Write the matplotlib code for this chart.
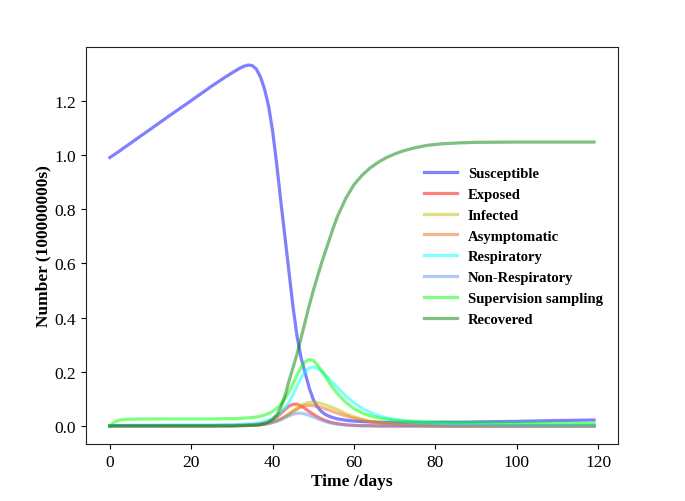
import matplotlib
matplotlib.use("Agg")
import matplotlib.pyplot as plt

plt.rcParams['font.family'] = ['Liberation Serif', 'DejaVu Serif']
plt.rcParams['mathtext.fontset'] = 'stix'

# time grid (days)
days = [0, 1, 2, 3, 5, 10, 15, 20, 25, 28, 30, 32, 33, 34, 35, 36, 37, 38, 39, 40,
        41, 42, 43, 44, 45, 46, 47, 48, 49, 50, 51, 52, 53, 54, 55, 56, 58, 60, 62, 64,
        66, 68, 70, 72, 75, 78, 82, 86, 90, 100, 110, 119]

susceptible = [0.99, 1.0, 1.01, 1.021, 1.042, 1.095, 1.148, 1.20, 1.253, 1.283, 1.302, 1.32, 1.327, 1.331, 1.329, 1.316, 1.287, 1.243, 1.18, 1.087,
               0.965, 0.83, 0.70, 0.57, 0.44, 0.33, 0.25, 0.195, 0.14, 0.097, 0.07, 0.053, 0.042, 0.035, 0.03, 0.026, 0.021, 0.018, 0.016, 0.015,
               0.014, 0.013, 0.013, 0.013, 0.013, 0.013, 0.014, 0.014, 0.015, 0.017, 0.02, 0.022]

exposed = [0.0, 0.001, 0.001, 0.001, 0.001, 0.001, 0.001, 0.001, 0.001, 0.002, 0.002, 0.003, 0.003, 0.004, 0.005, 0.006, 0.008, 0.011, 0.016, 0.023,
           0.033, 0.046, 0.06, 0.073, 0.08, 0.08, 0.074, 0.064, 0.053, 0.043, 0.034, 0.026, 0.02, 0.015, 0.011, 0.008, 0.004, 0.002, 0.001, 0.001,
           0.0, 0.0, 0.0, 0.0, 0.0, 0.0, 0.0, 0.0, 0.0, 0.0, 0.0, 0.0]

infected = [0.0, 0.001, 0.001, 0.001, 0.001, 0.001, 0.001, 0.001, 0.001, 0.001, 0.001, 0.002, 0.002, 0.003, 0.003, 0.004, 0.005, 0.007, 0.01, 0.014,
            0.019, 0.026, 0.034, 0.044, 0.055, 0.066, 0.076, 0.083, 0.087, 0.088, 0.086, 0.082, 0.077, 0.072, 0.066, 0.06, 0.045, 0.034, 0.025, 0.018,
            0.013, 0.009, 0.006, 0.005, 0.003, 0.002, 0.001, 0.001, 0.0, 0.0, 0.0, 0.0]

asymptomatic = [0.0, 0.001, 0.001, 0.001, 0.001, 0.001, 0.001, 0.001, 0.001, 0.001, 0.001, 0.002, 0.002, 0.003, 0.003, 0.004, 0.005, 0.007, 0.01, 0.014,
                0.019, 0.026, 0.034, 0.043, 0.053, 0.062, 0.07, 0.075, 0.076, 0.075, 0.072, 0.068, 0.063, 0.058, 0.052, 0.047, 0.037, 0.028, 0.021, 0.015,
                0.011, 0.008, 0.005, 0.004, 0.002, 0.001, 0.0, 0.0, 0.0, 0.0, 0.0, 0.0]

respiratory = [0.0, 0.001, 0.002, 0.002, 0.003, 0.003, 0.004, 0.004, 0.004, 0.005, 0.005, 0.006, 0.007, 0.008, 0.009, 0.011, 0.013, 0.017, 0.022, 0.029,
               0.038, 0.05, 0.066, 0.088, 0.115, 0.147, 0.178, 0.2, 0.214, 0.218, 0.213, 0.202, 0.188, 0.172, 0.156, 0.14, 0.11, 0.085, 0.065, 0.05,
               0.038, 0.03, 0.024, 0.019, 0.014, 0.011, 0.008, 0.006, 0.005, 0.004, 0.003, 0.003]

non_respiratory = [0.0, 0.001, 0.001, 0.001, 0.001, 0.001, 0.001, 0.001, 0.001, 0.001, 0.001, 0.002, 0.002, 0.003, 0.003, 0.004, 0.005, 0.007, 0.009, 0.013,
                   0.017, 0.023, 0.03, 0.037, 0.043, 0.047, 0.047, 0.044, 0.039, 0.033, 0.027, 0.021, 0.016, 0.012, 0.009, 0.007, 0.004, 0.002, 0.001, 0.001,
                   0.0, 0.0, 0.0, 0.0, 0.0, 0.0, 0.0, 0.0, 0.0, 0.0, 0.0, 0.0]

supervision = [0.0, 0.013, 0.02, 0.023, 0.025, 0.026, 0.026, 0.026, 0.026, 0.027, 0.027, 0.028, 0.029, 0.03, 0.031, 0.033, 0.036, 0.04, 0.046, 0.054,
               0.065, 0.08, 0.1, 0.125, 0.155, 0.188, 0.217, 0.237, 0.245, 0.242, 0.225, 0.205, 0.182, 0.158, 0.137, 0.118, 0.087, 0.064, 0.048, 0.037,
               0.03, 0.025, 0.021, 0.019, 0.017, 0.015, 0.014, 0.013, 0.012, 0.011, 0.01, 0.009]

recovered = [0.0, 0.0, 0.0, 0.0, 0.0, 0.0, 0.0, 0.0, 0.0, 0.0, 0.0, 0.001, 0.001, 0.002, 0.002, 0.003, 0.005, 0.008, 0.014, 0.024,
             0.04, 0.068, 0.11, 0.165, 0.215, 0.265, 0.325, 0.385, 0.445, 0.50, 0.55, 0.60, 0.645, 0.69, 0.735, 0.775, 0.84, 0.89, 0.925, 0.952,
             0.973, 0.99, 1.003, 1.014, 1.026, 1.035, 1.041, 1.044, 1.046, 1.047, 1.047, 1.047]

series = [
    ("Susceptible", susceptible, "b"),
    ("Exposed", exposed, "r"),
    ("Infected", infected, "y"),
    ("Asymptomatic", asymptomatic, "#ee6a1e"),
    ("Respiratory", respiratory, "cyan"),
    ("Non-Respiratory", non_respiratory, "cornflowerblue"),
    ("Supervision sampling", supervision, "lime"),
    ("Recovered", recovered, "g"),
]

fig = plt.figure(figsize=(6.85, 5.02), dpi=100)
ax = fig.add_axes([0.1251, 0.1135, 0.9026 - 0.1251, 0.9044 - 0.1135])

for name, vals, col in series:
    ax.plot(days, vals, color=col, alpha=0.5, lw=2.3, label=name)

ax.set_xlabel("Time /days", fontsize=12.5, fontweight='bold', labelpad=2)
ax.set_ylabel("Number (100000000s)", fontsize=12.5, fontweight='bold', labelpad=2)
ax.tick_params(labelsize=12.5)
ax.set_xticks([0, 20, 40, 60, 80, 100, 120])
ax.set_yticks([0.0, 0.2, 0.4, 0.6, 0.8, 1.0, 1.2])
for s in ax.spines.values():
    s.set_color('#222222')

leg = ax.legend(loc='upper left', bbox_to_anchor=(424 / 685, 1 - 168 / 502),
                bbox_transform=fig.transFigure, frameon=False, borderpad=0,
                borderaxespad=0, handlelength=2.25, handletextpad=0.75,
                labelspacing=0.52, prop={'size': 10.5, 'weight': 'bold'})

fig.savefig("out.png", dpi=100)
